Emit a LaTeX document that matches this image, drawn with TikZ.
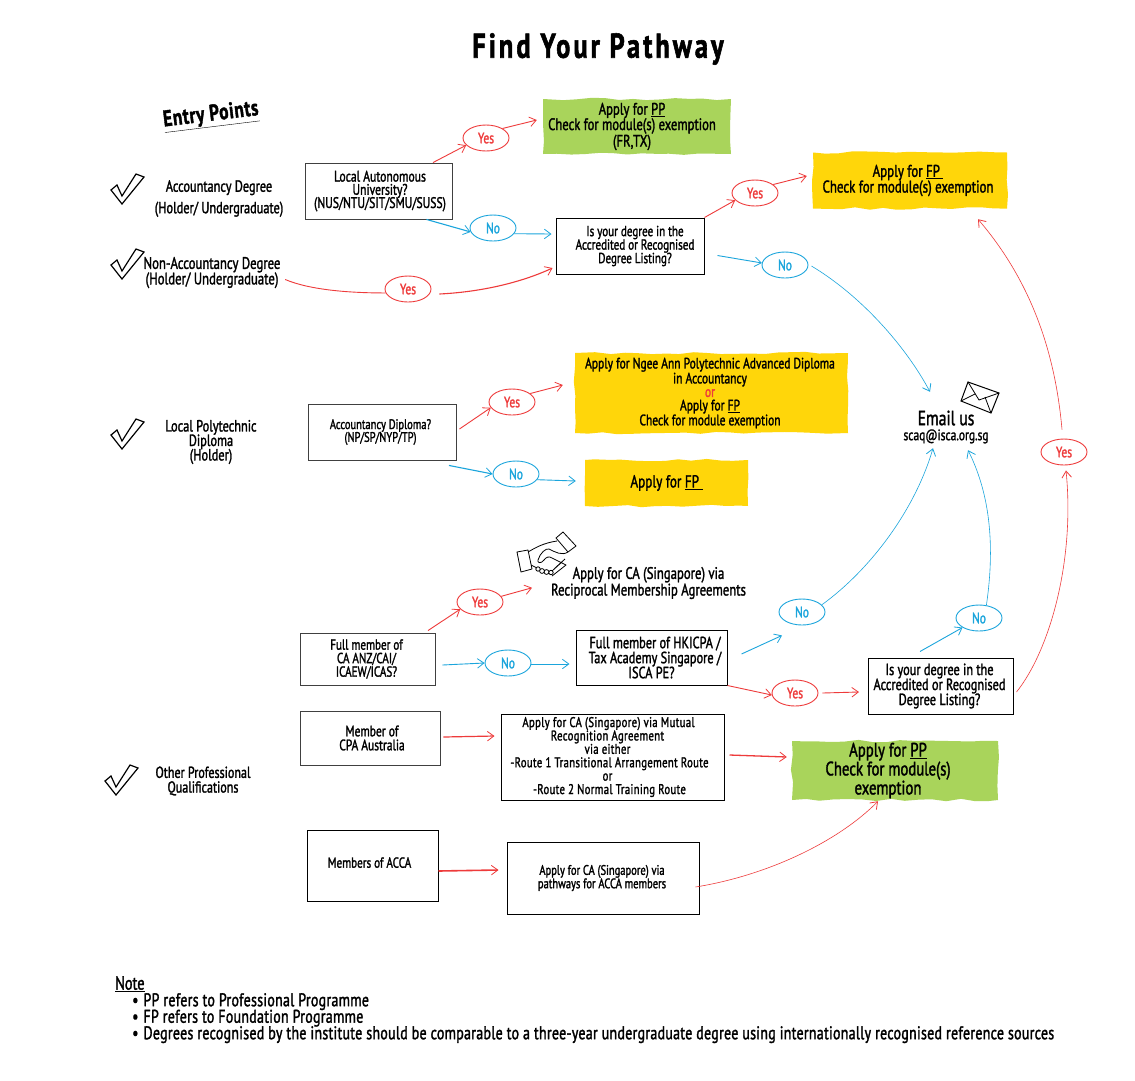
\documentclass[tikz,border=0pt]{standalone}
\usepackage{fontspec}
\setmainfont[FakeStretch=0.76,FakeBold=1.6]{PT Sans}
\usetikzlibrary{arrows.meta,shapes.geometric,decorations.pathmorphing}
\definecolor{cred}{HTML}{EE3B3B}
\definecolor{cblue}{HTML}{1BA5DC}
\definecolor{cgreen}{HTML}{A9D45B}
\definecolor{cyellow}{HTML}{FFD60A}
\newcommand{\fs}[1]{\fontsize{\fpeval{#1*1.08}}{#1}\selectfont}
\newcommand{\fsl}[2]{\fontsize{\fpeval{#1*1.08}}{#2}\selectfont}
\tikzset{
  x=1pt,y=-1pt,
  tip/.style={-{Straight Barb[length=6.5pt,width=9.5pt,line width=.8pt]}},
  redl/.style={draw=cred,line width=.9pt},
  bluel/.style={draw=cblue,line width=.9pt},
  thinl/.style={line width=.6pt},
  qbox/.style={draw=black!75,line width=.9pt,inner sep=0pt,align=center,font=\fs{13.5}},
  darkbox/.style={qbox,draw=black,line width=1pt},
  patch/.style={inner sep=0pt,align=center,font=\fs{14.5},decorate,decoration={random steps,segment length=14pt,amplitude=1.2pt}},
  oval/.style={ellipse,draw,line width=.9pt,minimum width=46pt,minimum height=26pt,inner sep=0pt,font=\fs{14}},
  yesn/.style={oval,draw=cred,text=cred},
  non/.style={oval,draw=cblue,text=cblue},
  lab/.style={align=center,inner sep=0pt},
  checkm/.style={draw=black,line width=1.2pt,fill=white,line join=miter},
}
\newcommand{\chk}[1]{\draw[checkm,shift={#1}] (111,190) -- (122,204) -- (144,177) -- (136,174) -- (122,196) -- (117,185) -- cycle;}
\begin{document}
\begin{tikzpicture}
\pgfmathsetseed{7}
\useasboundingbox (0,0) rectangle (1135,1080);
\fill[white] (0,0) rectangle (1135,1080);

% titles
\node[lab,font=\fs{32}\bfseries\addfontfeature{LetterSpace=9}] (title) at (598,49) {Find Your Pathway};
\node[lab,font=\fs{21}\bfseries\addfontfeature{LetterSpace=3},rotate=7] (entry) at (211,116) {\underline{Entry Points}};

% checks
\chk{(0,0)} \chk{(0,75)} \chk{(0,245)} \chk{(-6,591)}

% entry labels
\node[lab,font=\fs{15}] (acc) at (219,198.5) {Accountancy Degree\\[6.5pt](Holder/ Undergraduate)};
\node[lab,font=\fs{15.5},minimum width=140pt] (nonacc) at (212,272.5) {Non-Accountancy Degree\\[0pt](Holder/ Undergraduate)};
\node[lab,font=\fs{15}] (polyl) at (211,442) {Local Polytechnic\\[-.5pt]Diploma\\[-.5pt](Holder)};
\node[lab,font=\fs{14.7}] (other) at (203,781) {Other Professional\\Qualifications};

% question boxes
\node[qbox,minimum width=147pt,minimum height=56pt,font=\fs{14.2}] (lau) at (378.5,191) {\hspace*{3pt}Local Autonomous\\[-1pt]\hspace*{3pt}University?\\[-1pt]\hspace*{3pt}(NUS/NTU/SIT/SMU/SUSS)};
\node[darkbox,minimum width=148pt,minimum height=56pt] (deg) at (630,246) {\hspace*{10pt}Is your degree in the\\\hspace*{10pt}Accredited or Recognised\\\hspace*{10pt}Degree Listing?};
\node[qbox,minimum width=148pt,minimum height=56pt,font=\fs{12.8}] (poly) at (382,432) {\hspace*{-3pt}Accountancy Diploma?\\\hspace*{-3pt}(NP/SP/NYP/TP)};
\node[qbox,minimum width=135pt,minimum height=52pt] (fullca) at (367.5,659) {\hspace*{-2pt}Full member of\\\hspace*{-2pt}CA ANZ/CAI/\\\hspace*{-2pt}ICAEW/ICAS?};
\node[darkbox,minimum width=151pt,minimum height=55pt,font=\fs{15}] (hk) at (651.5,657.5) {\hspace*{7pt}Full member of HKICPA /\\\hspace*{7pt}Tax Academy Singapore /\\ISCA PE?};
\node[qbox,minimum width=140pt,minimum height=54pt,font=\fs{14}] (cpa) at (370,738) {\hspace*{4pt}Member of\\\hspace*{4pt}CPA Australia};
\node[darkbox,minimum width=223pt,minimum height=86pt,font=\fsl{13}{13.4}\addfontfeature{LetterSpace=2.5}] (mra) at (612.5,757) {\hspace*{-8pt}Apply for CA (Singapore) via Mutual\\\hspace*{-10pt}Recognition Agreement\\\hspace*{-10pt}via either\\\hspace*{-6pt}-Route 1 Transitional Arrangement Route\\\hspace*{-10pt}or\\\hspace*{-6pt}-Route 2 Normal Training Route};
\node[darkbox,minimum width=131pt,minimum height=71pt] (acca) at (372.5,865.5) {\raisebox{6pt}{\hspace*{-6pt}Members of ACCA}};
\node[darkbox,minimum width=192pt,minimum height=72pt,font=\fs{12.8}] (accaap) at (603,878) {\hspace*{-2pt}Apply for CA (Singapore) via\\[-.5pt]\hspace*{-2pt}pathways for ACCA members};
\node[darkbox,minimum width=145pt,minimum height=56pt,font=\fs{15}] (deg2) at (940.5,686) {\hspace*{-2pt}Is your degree in the\\\hspace*{-2pt}Accredited or Recognised\\\hspace*{-2pt}Degree Listing?};

% coloured patches
\node[patch,fill=cgreen,minimum width=188pt,minimum height=55pt,font=\fs{15.4}] (pp1) at (637,126.5) {\hspace*{-10pt}Apply for \underline{PP}\\\hspace*{-10pt}Check for module(s) exemption\\\hspace*{-10pt}(FR,TX)};
\node[patch,fill=cyellow,minimum width=194pt,minimum height=56pt,font=\fs{15.7}] (fp1) at (910,180.5) {\hspace*{-4pt}Apply for \underline{FP\ }\\\hspace*{-4pt}Check for module(s) exemption};
\node[patch,fill=cyellow,minimum width=273pt,minimum height=80pt,font=\fsl{14}{13.5}] (ngee) at (711.5,393) {\hspace*{-3pt}Apply for Ngee Ann Polytechnic Advanced Diploma\\\hspace*{-3pt}in Accountancy\\\hspace*{-3pt}\textcolor{cred}{or}\\\hspace*{-3pt}Apply for \underline{FP}\\\hspace*{-3pt}Check for module exemption};
\node[patch,fill=cyellow,minimum width=163pt,minimum height=46pt,font=\fs{16}] (fp2) at (666.5,483) {Apply for \underline{FP\ }};
\node[patch,fill=cgreen,minimum width=206pt,minimum height=59pt,font=\fsl{18}{16.5}] (pp2) at (895,770.5) {\hspace*{-14pt}Apply for \underline{PP}\\\hspace*{-14pt}Check for module(s)\\\hspace*{-14pt}exemption};

% plain results
\node[lab,font=\fsl{15.5}{15}] (recip) at (648.5,583) {Apply for CA (Singapore) via\\Reciprocal Membership Agreements};
\node[lab,minimum width=90pt,minimum height=36pt] (email) at (946,427) {{\fs{19}Email us}\\[3pt]{\fs{14}scaq@isca.org.sg}};

% ovals
\node[yesn] (yes1) at (486,138) {Yes};
\node[non]  (no1)  at (493,228) {No};
\node[yesn] (yes2) at (755,193) {Yes};
\node[non]  (no2)  at (785,265) {No};
\node[yesn] (yes3) at (408,289) {Yes};
\node[yesn] (yes4) at (512,402) {Yes};
\node[non]  (no3)  at (516,474) {No};
\node[yesn] (yes5) at (480,602) {Yes};
\node[non]  (no4)  at (508,663) {No};
\node[non]  (no5)  at (802,612) {No};
\node[non]  (no6)  at (979,618) {No};
\node[yesn] (yes6) at (795,693) {Yes};
\node[yesn] (yes7) at (1064,452) {Yes};

% connectors - accountancy degree
\draw[redl,tip] ([shift={(54.5,0)}]lau.north) -- (yes1.200);
\draw[redl,tip] (yes1.30) -- ([shift={(-6,-6.5)}]pp1.west);
\draw[bluel,tip,line width=1.1pt] ([shift={(48,0)}]lau.south) -- (no1.190);
\draw[bluel,tip] (no1.345) -- ([shift={(-4,-12)}]deg.west);
\draw[redl] ([shift={(3,7)}]nonacc.east) .. controls (310,290) and (350,293) .. (yes3.190);
\draw[redl,tip,line width=1.1pt] ([shift={(8,5)}]yes3.east) .. controls (480,292) and (520,283) .. ([shift={(-3,22)}]deg.west);
\draw[redl,tip] (deg.north east) -- (yes2.200);
\draw[redl,tip] (yes2.25) -- ([shift={(-6,-4.5)}]fp1.west);
\draw[bluel,tip] ([shift={(13,-19)}]deg.south east) -- (no2.175);
\draw[bluel,tip,thinl] ([shift={(3,1)}]no2.east) .. controls (860,295) and (905,345) .. ([shift={(-16,-17)}]email.north);

% polytechnic
\draw[redl,tip] ([shift={(3,-3)}]poly.east) -- (yes4.195);
\draw[redl,tip] (yes4.25) -- ([shift={(-12,-8)}]ngee.west);
\draw[bluel,tip,line width=1.1pt] ([shift={(67,5)}]poly.south) -- (no3.180);
\draw[bluel,tip] (no3.345) -- ([shift={(-9,-2)}]fp2.west);

% other qualifications
\draw[redl,tip] ([shift={(60.5,-2)}]fullca.north) -- (yes5.200);
\draw[redl,tip] (yes5.15) -- ([shift={(-116.5,21)}]recip.north);
\draw[bluel,tip] ([shift={(7,6)}]fullca.east) -- (no4.180);
\draw[bluel,tip] ([shift={(0,1)}]no4.east) -- ([shift={(-6,6.5)}]hk.west);
\draw[bluel,tip] ([shift={(14,-3.5)}]hk.east) -- ([shift={(-20,10)}]no5.south);
\draw[bluel,tip,thinl] (no5.20) .. controls (870,570) and (915,510) .. ([shift={(-13,3)}]email.south);
\draw[redl,tip] (hk.south east) -- (yes6.185);
\draw[redl,tip] ([shift={(4,0)}]yes6.east) -- ([shift={(-8.5,6)}]deg2.west);
\draw[bluel,tip] ([shift={(-20.5,-6)}]deg2.north) -- (no6.210);
\draw[bluel,tip,thinl] (no6.60) .. controls (996,540) and (988,490) .. ([shift={(22,5)}]email.south);
\draw[redl,tip,thinl] ([shift={(3,6)}]deg2.east) .. controls (1050,650) and (1075,560) .. ([shift={(2,5)}]yes7.south);
\draw[redl,tip,thinl] ([shift={(-2,-9)}]yes7.north) .. controls (1055,350) and (1030,280) .. ([shift={(68,10.5)}]fp1.south);
\draw[redl,tip,line width=1.2pt] ([shift={(3,-1)}]cpa.east) -- ([shift={(-6,-21)}]mra.west);
\draw[redl,tip,line width=1.3pt] ([shift={(5,-2)}]mra.east) -- ([shift={(-5,-13.5)}]pp2.west);
\draw[redl,tip,line width=1.6pt] ([shift={(0,5.5)}]acca.east) -- ([shift={(-8,-8)}]accaap.west);
\draw[redl,tip,thinl] ([shift={(-4,9)}]accaap.east) .. controls (770,875) and (840,840) .. ([shift={(-17,1)}]pp2.south);

% envelope
\draw[line width=1pt,line join=miter] (968,382) -- (999,393) -- (991,413) -- (961,401) -- cycle;
\draw[line width=.8pt] (968,382) -- (979,400) -- (999,393) (961,401) -- (975,394) (985,397) -- (991,413);

% handshake
\begin{scope}[line width=.8pt,line join=round]
\draw (517,552) -- (528,550) -- (532,569) -- (521,572) -- cycle;
\draw (556,538) -- (563,532) -- (576,546) -- (568,552) -- cycle;
\draw (528,552) .. controls (535,548) and (543,543) .. (557,541);
\draw (531,565) -- (537,568);
\draw (568,552) .. controls (562,556) and (555,552) .. (549,549) .. controls (546,548) and (540,553) .. (538,560) .. controls (537,563) and (541,564) .. (544,560) .. controls (546,557) and (549,556) .. (552,558) -- (566,565) -- (552,576);
\draw (565,559) -- (555,568) (562,562) -- (552,571);
\draw (538,569) circle[radius=2.2pt] (542,571) circle[radius=2.4pt] (546.5,572) circle[radius=2.4pt] (551,572.5) circle[radius=2.2pt];
\end{scope}

% note
\node[lab,anchor=west,font=\fs{17.5}] (note) at (115,984) {\underline{Note}};
\node[lab,anchor=north west,align=left,font=\fs{17}\addfontfeature{LetterSpace=1.5}] (notes) at (132,993) {\textbullet\hspace{5pt}PP refers to Professional Programme\\[-.5pt]\textbullet\hspace{5pt}FP refers to Foundation Programme\\[-.5pt]\textbullet\hspace{5pt}Degrees recognised by the institute should be comparable to a three-year undergraduate degree using internationally recognised reference sources};
\end{tikzpicture}
\end{document}
